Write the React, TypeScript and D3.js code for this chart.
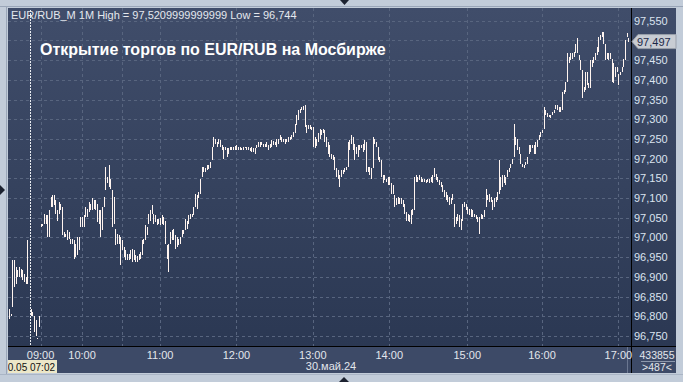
import React from "react";
import * as d3 from "d3";

type Bar = [number, number] | null; // [high, low]

// ---------- DATA (1-minute bars, high/low) ----------
const barsPre0900: Bar[] = [
  [96.819, 96.794], [96.805, 96.8], [96.942, 96.823], [96.942, 96.874], [96.925, 96.883],
  [96.917, 96.9], [96.925, 96.9], [96.92, 96.9], [96.917, 96.891], [96.908, 96.887],
  [96.9, 96.883], [96.994, 96.883], null, [96.819, 96.802], [96.812, 96.8],
  [96.802, 96.76], [96.79, 96.751], [96.746, 96.744], [96.802, 96.772],
];
const bars0900: Bar[] = [
  [97.035, 97.027], [97.035, 97.028], [97.06, 97.035], [97.056, 97.035], [97.056, 97.001],
  [97.069, 97.001], [97.103, 97.077], [97.107, 97.077], [97.107, 97.082], [97.094, 97.06],
  [97.069, 97.043], [97.09, 97.06], [97.086, 97.069], [97.077, 97.005], [97.014, 97.001],
  [97.01, 97.001], [97.018, 96.993], [97.014, 96.997], [96.997, 96.984], [96.997, 96.984],
  [96.993, 96.946], [96.984, 96.95], [97.001, 96.955], [97.001, 96.967], [97.052, 97.027],
];
const bars1000: Bar[] = [
  [97.052, 97.027], [97.056, 97.027], [97.077, 97.052], [97.073, 97.052], [97.09, 97.065],
  [97.086, 97.069], [97.099, 97.069], [97.094, 97.073], [97.094, 97.069], [97.086, 97.039],
  [97.069, 97.035], [97.069, 97.001], [97.077, 97.018], [97.103, 97.077], [97.179, 97.12],
  [97.154, 97.137], [97.183, 97.128], [97.149, 97.124], [97.12, 97.027], [97.103, 97.035],
  [97.022, 96.98], [97.01, 96.984], [97.005, 96.984], [97.001, 96.929],
];
const bars1030: Bar[] = [
  [96.993, 96.967], [96.976, 96.95], [96.967, 96.942], [96.959, 96.942], [96.959, 96.944],
  [96.967, 96.946], [96.971, 96.938], [96.967, 96.942], [96.955, 96.938], [96.952, 96.938],
  [96.959, 96.942], [96.963, 96.946], [96.993, 96.955], [96.997, 96.984], [97.031, 96.993],
  [97.027, 97.005], [97.06, 97.035], [97.069, 97.043], [97.082, 97.06], [97.06, 97.035],
  [97.056, 97.039], [97.048, 97.031], [97.048, 97.035],
];
const bars1100: Bar[] = [
  [97.05, 97.031], [97.056, 97.035], [97.052, 97.031], [97.043, 96.984], [96.98, 96.946],
  [96.984, 96.912], [97.014, 96.984], [97.018, 96.993], [97.022, 96.993], [97.005, 96.971],
  [97.001, 96.976], [96.997, 96.98], [97.001, 96.984], [97.018, 97.001], [97.018, 97.01],
  [97.048, 97.018], [97.043, 97.022], [97.056, 97.035], [97.06, 97.048], [97.06, 97.052],
  [97.077, 97.056], [97.111, 97.077], [97.107, 97.073], [97.115, 97.099], [97.149, 97.111],
  [97.179, 97.154], [97.179, 97.166], [97.175, 97.166], [97.183, 97.171], [97.183, 97.173],
  [97.192, 97.175], [97.23, 97.196], [97.255, 97.23], [97.251, 97.238], [97.243, 97.23],
  [97.251, 97.238], [97.247, 97.23], [97.234, 97.221], [97.23, 97.2], [97.23, 97.221],
  [97.226, 97.204], [97.226, 97.213], [97.23, 97.221], [97.23, 97.223], [97.23, 97.221],
  [97.232, 97.223],
];
const bars1200: Bar[] = [
  [97.234, 97.221], [97.23, 97.221], [97.23, 97.221], [97.228, 97.221], [97.23, 97.221],
  [97.23, 97.226], [97.23, 97.223], [97.23, 97.221], [97.228, 97.219], [97.23, 97.217],
  [97.226, 97.217], [97.226, 97.213], [97.234, 97.226], [97.243, 97.23], [97.243, 97.23],
  [97.243, 97.234], [97.238, 97.23], [97.238, 97.23], [97.243, 97.23], [97.234, 97.221],
  [97.238, 97.226], [97.247, 97.23], [97.245, 97.234], [97.243, 97.234], [97.251, 97.23],
  [97.251, 97.238], [97.259, 97.247], [97.255, 97.243], [97.251, 97.243], [97.251, 97.238],
  [97.251, 97.243], [97.255, 97.243], [97.255, 97.247], [97.259, 97.251], [97.268, 97.255],
  [97.289, 97.264], [97.31, 97.285], [97.323, 97.298], [97.327, 97.315], [97.331, 97.323],
  [97.334, 97.323], [97.336, 97.281], [97.285, 97.264], [97.285, 97.276], [97.285, 97.276],
  [97.281, 97.272],
];
const bars1300: Bar[] = [
  [97.281, 97.23], [97.255, 97.226], [97.25, 97.232], [97.264, 97.243], [97.276, 97.251],
  [97.272, 97.259], [97.276, 97.264], [97.272, 97.243], [97.255, 97.23], [97.243, 97.213],
  [97.234, 97.204], [97.213, 97.2], [97.209, 97.196], [97.204, 97.171], [97.175, 97.154],
  [97.171, 97.149], [97.158, 97.128], [97.171, 97.154], [97.171, 97.162], [97.175, 97.166],
  [97.179, 97.171], [97.243, 97.179], [97.247, 97.221], [97.259, 97.238], [97.255, 97.221],
  [97.238, 97.196], [97.23, 97.213], [97.234, 97.204], [97.234, 97.221], [97.234, 97.226],
  [97.238, 97.217], [97.247, 97.221], [97.243, 97.166], [97.179, 97.166], [97.179, 97.158],
  [97.175, 97.149], [97.255, 97.175], [97.251, 97.238], [97.243, 97.23], [97.23, 97.196],
  [97.204, 97.192], [97.196, 97.154], [97.158, 97.137], [97.158, 97.145], [97.149, 97.141],
  [97.154, 97.132],
];
const bars1400: Bar[] = [
  [97.154, 97.132], [97.137, 97.111], [97.132, 97.111], [97.107, 97.077], [97.099, 97.082],
  [97.103, 97.086], [97.099, 97.086], [97.099, 97.086], [97.094, 97.077], [97.086, 97.06],
  [97.065, 97.043], [97.06, 97.043], [97.056, 97.039], [97.069, 97.035], [97.073, 97.056],
  [97.154, 97.069], [97.158, 97.141], [97.154, 97.141], [97.158, 97.145], [97.154, 97.141],
  [97.149, 97.141], [97.149, 97.141], [97.145, 97.137], [97.149, 97.141], [97.149, 97.137],
  [97.154, 97.141], [97.158, 97.137], [97.175, 97.154], [97.162, 97.145], [97.154, 97.141],
  [97.145, 97.132], [97.141, 97.128], [97.132, 97.115], [97.12, 97.103], [97.115, 97.094],
  [97.107, 97.09], [97.103, 97.082], [97.099, 97.086], [97.111, 97.094], [97.086, 97.027],
  [97.052, 97.035], [97.06, 97.043], [97.056, 97.027], [97.048, 97.018], [97.086, 97.043],
  [97.09, 97.077], [97.086, 97.069],
];
const bars1500: Bar[] = [
  [97.077, 97.06], [97.073, 97.056], [97.073, 97.052], [97.069, 97.052], [97.06, 97.052],
  [97.056, 97.048], [97.052, 97.039], [97.052, 97.01], [97.06, 97.048], [97.056, 97.048],
  [97.069, 97.052], [97.124, 97.077], [97.107, 97.094], [97.111, 97.09], [97.103, 97.09],
  [97.094, 97.069], [97.099, 97.077], [97.103, 97.09], [97.115, 97.094], [97.196, 97.111],
  [97.154, 97.12], [97.158, 97.128], [97.158, 97.137], [97.154, 97.132], [97.171, 97.154],
  [97.175, 97.166], [97.187, 97.175], [97.2, 97.187], [97.289, 97.204], [97.255, 97.234],
  [97.251, 97.221], [97.23, 97.213], [97.213, 97.187], [97.187, 97.179], [97.183, 97.175],
  [97.192, 97.183], [97.204, 97.187], [97.234, 97.213], [97.234, 97.217], [97.234, 97.226],
  [97.234, 97.213], [97.243, 97.213], [97.247, 97.23], [97.259, 97.247], [97.268, 97.255],
];
const bars1600: Bar[] = [
  [97.272, 97.264], [97.331, 97.276], [97.323, 97.31], [97.315, 97.306], [97.31, 97.306],
  [97.31, 97.304], [97.319, 97.31], [97.323, 97.315], [97.336, 97.327], [97.336, 97.323],
  [97.331, 97.319], [97.331, 97.319], [97.37, 97.323], [97.374, 97.365], [97.395, 97.37],
  [97.467, 97.395], [97.459, 97.442], [97.467, 97.45], [97.467, 97.454], [97.471, 97.459],
  [97.492, 97.467], [97.505, 97.467], [97.463, 97.45], [97.45, 97.425], [97.425, 97.353],
  [97.382, 97.37], [97.42, 97.374], [97.42, 97.387], [97.391, 97.378], [97.45, 97.378],
  [97.45, 97.433], [97.459, 97.442], [97.467, 97.45], [97.484, 97.463], [97.509, 97.471],
  [97.514, 97.501], [97.521, 97.509], [97.521, 97.492], [97.492, 97.45], [97.467, 97.454],
  [97.467, 97.45], [97.467, 97.454], [97.454, 97.395], [97.442, 97.391], [97.433, 97.408],
  [97.433, 97.42],
];
const bars1700: Bar[] = [
  [97.416, 97.387], [97.42, 97.412], [97.433, 97.42], [97.454, 97.433], [97.501, 97.45],
  [97.52, 97.509], [97.505, 97.497],
];

const blockTimes = ["07:00", "09:00", "10:00", "10:30", "11:00", "12:00", "13:00", "14:00", "15:00", "16:00", "17:00"];
const blockBars = [barsPre0900, bars0900, bars1000, bars1030, bars1100, bars1200, bars1300, bars1400, bars1500, bars1600, bars1700];
const labelledTimes = ["09:00", "10:00", "11:00", "12:00", "13:00", "14:00", "15:00", "16:00", "17:00"];
const gridTimes = ["09:00", "10:00", "10:30", "11:00", "12:00", "13:00", "14:00", "15:00", "16:00", "17:00"];
const priceTicks = [96.75, 96.8, 96.85, 96.9, 96.95, 97.0, 97.05, 97.1, 97.15, 97.2, 97.25, 97.3, 97.35, 97.4, 97.45, 97.5, 97.55];
const cursorBarIndex = 13;
const cursorLabel = "30.05 07:02";
const dateLabel = "30.май.24";
const lastPrice = 97.497;
const headerText = "EUR/RUB_M  1M High = 97,5209999999999 Low = 96,744";
const titleText = "Открытие торгов по EUR/RUB на Мосбирже";
const volumeText = "433855";
const barCountText = ">487<";

// ---------- LAYOUT ----------
const W = 683, H = 382;
const L = 8, T = 8, PR = 631, R = 676, PB = 346, B = 373;
const FONT = "'Liberation Sans', Arial, sans-serif";

export default function App() {
  const bars: Bar[] = blockBars.flat();
  const starts: Record<string, number> = {};
  let acc = 0;
  blockTimes.forEach((t, k) => { starts[t] = acc; acc += blockBars[k].length; });
  const n = bars.length;

  const x = d3.scaleLinear().domain([0, n]).range([9, 630]);
  const y = d3.scaleLinear().domain([96.75, 97.55]).range([336, 20.7]);
  const fmt = (v: number) => d3.format(".3f")(v).replace(".", ",");

  const cx = Math.round(x(cursorBarIndex)) - 0.5;
  const py = y(lastPrice);
  const axisLabels = priceTicks.filter((p) => Math.abs(y(p) - py) > 8);

  return (
    <svg width={W} height={H} style={{ position: "absolute", left: 0, top: 0 }} fontFamily={FONT}>
      <defs>
        <linearGradient id="plotBg" x1="0" y1="0" x2="0" y2="1">
          <stop offset="0" stopColor="#404d6a" />
          <stop offset="1" stopColor="#2b3853" />
        </linearGradient>
        <clipPath id="panelClip">
          <rect x={L} y={T} width={R - L} height={B - T} />
        </clipPath>
      </defs>
      <rect x={0} y={0} width={W} height={H} fill="#c2ccd9" />
      <line x1={0} x2={W} y1={6.5} y2={6.5} stroke="#9aa6b8" />
      <line x1={6.5} x2={6.5} y1={7} y2={B + 1} stroke="#9aa6b8" />
      <line x1={0} x2={W} y1={B + 1.5} y2={B + 1.5} stroke="#aab5c5" />
      {/* markers */}
      <path d="M340,0 L349,0 L344.5,5 Z" fill="#1c2230" />
      <path d="M339,382 L349,382 L344,377 Z" fill="#1c2230" />
      <path d="M0,185 L5,190 L0,195 Z" fill="#1c2230" />

      {/* plot + right axis background */}
      <rect x={L} y={T} width={R - L} height={PB - T} fill="url(#plotBg)" />
      <rect x={L} y={PB} width={R - L} height={B - PB} fill="#3d4a67" />

      {/* grid */}
      {priceTicks.map((p) => (
        <line key={"h" + p} x1={L} x2={PR} y1={Math.round(y(p)) + 0.5} y2={Math.round(y(p)) + 0.5}
          stroke="#58657f" strokeDasharray="3,3" />
      ))}
      {gridTimes.map((t) => (
        <line key={"v" + t} x1={Math.round(x(starts[t])) + 0.5} x2={Math.round(x(starts[t])) + 0.5}
          y1={T} y2={PB} stroke="#58657f" strokeDasharray="3,3" />
      ))}

      {/* bars */}
      <g fill="#fff4ef">
        {bars.map((b, i) =>
          b ? (
            <rect key={i} x={Math.round(x(i))} y={Math.round(y(b[0]))} width={1}
              height={Math.max(1, Math.round(y(b[1])) - Math.round(y(b[0])))} />
          ) : null
        )}
      </g>

      {/* cursor */}
      <line x1={cx} x2={cx} y1={T + 2} y2={PB} stroke="#e9ecf0" strokeDasharray="2,1" />

      {/* texts in plot */}
      <text x={11} y={19} fontSize={11} fill="#e4e8ee">{headerText}</text>
      <text x={40} y={55} fontSize={16} fontWeight="bold" fill="#ffffff">{titleText}</text>

      {/* frame lines */}
      <line x1={PR + 0.5} x2={PR + 0.5} y1={T} y2={B} stroke="#000" />
      <line x1={L} x2={R} y1={PB + 0.5} y2={PB + 0.5} stroke="#000" />
      <line x1={627.5} x2={627.5} y1={PB + 1} y2={B} stroke="#6b7791" />

      {/* right axis */}
      {axisLabels.map((p) => (
        <text key={"t" + p} x={634} y={y(p) + 4} fontSize={11} fill="#dbe3ef">{fmt(p)}</text>
      ))}
      <path d={`M${PR + 1},${py} L${PR + 7},${py - 7} L${R},${py - 7} L${R},${py + 7} L${PR + 7},${py + 7} Z`}
        fill="#c8ccd3" stroke="#9aa0ab" />
      <text x={637} y={py + 4} fontSize={11} fill="#1b2948">{fmt(lastPrice)}</text>

      {/* bottom axis */}
      {labelledTimes.map((t) => (
        <text key={"x" + t} x={x(starts[t])} y={359} fontSize={11} fill="#e2e6ec" textAnchor="middle">{t}</text>
      ))}
      <text x={331} y={370} fontSize={11} fill="#e2e6ec" textAnchor="middle">{dateLabel}</text>
      <g clipPath="url(#panelClip)">
        <rect x={L} y={360} width={49} height={13} fill="#ece7c8" />
        <text x={55} y={371} fontSize={10} fill="#111" textAnchor="end">{cursorLabel}</text>
      </g>
      <text x={657} y={359} fontSize={10.5} fill="#e2e6ec" textAnchor="middle">{volumeText}</text>
      <line x1={641} x2={675} y1={361.5} y2={361.5} stroke="#8d98ac" />
      <text x={657} y={371} fontSize={10.5} fill="#e2e6ec" textAnchor="middle">{barCountText}</text>
    </svg>
  );
}
